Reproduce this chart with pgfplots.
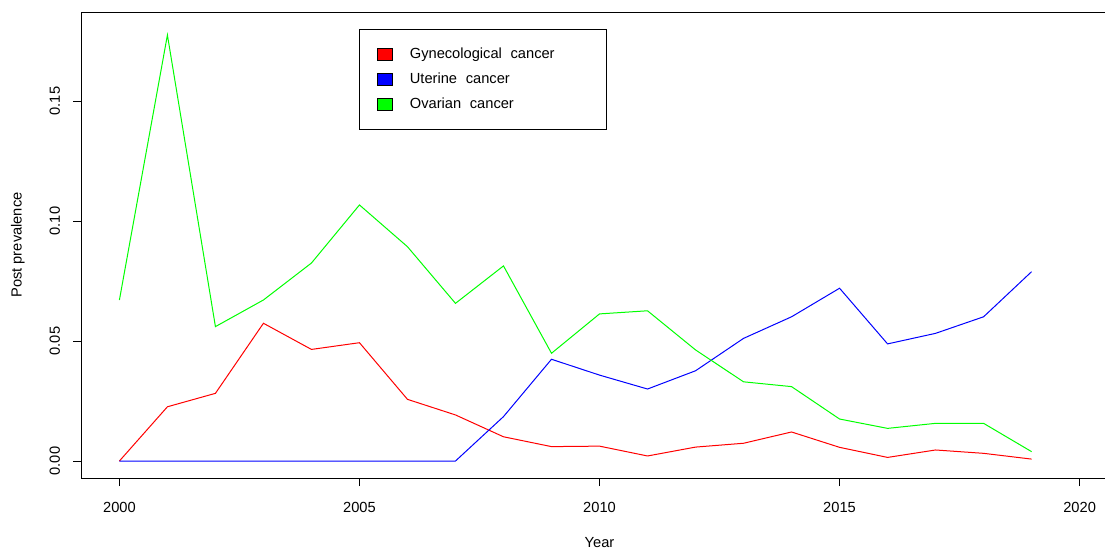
\documentclass[border=0pt]{standalone}
\usepackage{pgfplots}
\pgfplotsset{compat=1.18}
\usepackage{fontspec}
\setmainfont{Liberation Sans}
\newcommand{\fs}{\fontsize{11pt}{13pt}\selectfont}
\newcommand{\wg}{\hspace{6.5pt}}
\begin{document}
\begin{tikzpicture}
\path[use as bounding box] (0pt,0pt) rectangle (828.75pt,413.25pt);
\clip (0pt,0pt) rectangle (828.75pt,413.25pt);
\begin{axis}[
  at={(60.75pt,54.75pt)}, anchor=south west,
  scale only axis, width=777.75pt, height=349.5pt,
  xmin=1999.2, xmax=2020.8, ymin=-0.00708, ymax=0.1871,
  xtick={2000,2005,2010,2015,2020}, ytick={0,0.05,0.10,0.15},
  axis line style={black, line width=0.75pt},
  tick style={black, line width=0.75pt},
  tick align=outside, major tick length=6pt,
  xtick pos=lower, ytick pos=left,
  /pgf/number format/assume math mode=true,
  x tick label style={/pgf/number format/1000 sep={}, font=\fs, anchor=north, inner sep=0pt},
  xticklabel shift=12pt,
  y tick label style={/pgf/number format/.cd, fixed, fixed zerofill, precision=2, /tikz/.cd, font=\fs, rotate=90, anchor=south, inner sep=0pt},
  yticklabel shift=9.5pt,
  xlabel={Year}, ylabel={Post prevalence},
  xlabel style={font=\fs, at={(axis description cs:0.5,-0.1395)}, anchor=center},
  ylabel style={font=\fs, at={(axis description cs:-0.0608,0.5)}, anchor=center},
  legend cell align=left,
  legend style={at={(axis description cs:0.2681,0.9635)}, anchor=north west, draw=black, line width=0.75pt, fill=white,
    inner xsep=13pt, inner ysep=9.4pt, row sep=0pt, font=\fs,
    nodes={text height=8pt, text depth=2.75pt, inner xsep=3.5pt, inner ysep=4pt},
    /tikz/every odd column/.append style={column sep=9.5pt}},
]
\addplot[red, line width=0.75pt, legend image code/.code={\draw[draw=black, fill=red, line width=0.5pt] (0pt,-4.5pt) rectangle (11.25pt,4.5pt);}] coordinates {
(2000,0) (2001,0.0226) (2002,0.0282) (2003,0.0574) (2004,0.0465) (2005,0.0493) (2006,0.0257) (2007,0.0192) (2008,0.0101) (2009,0.0060) (2010,0.0062) (2011,0.0021) (2012,0.0058) (2013,0.0074) (2014,0.0121) (2015,0.0057) (2016,0.0015) (2017,0.0046) (2018,0.0032) (2019,0.0008)};
\addlegendentry{Gynecological\wg cancer\hspace{22pt}\null}
\addplot[blue, line width=0.75pt, legend image code/.code={\draw[draw=black, fill=blue, line width=0.5pt] (0pt,-4.5pt) rectangle (11.25pt,4.5pt);}] coordinates {
(2000,0) (2001,0) (2002,0) (2003,0) (2004,0) (2005,0) (2006,0) (2007,0) (2008,0.0185) (2009,0.0424) (2010,0.0358) (2011,0.0300) (2012,0.0376) (2013,0.0511) (2014,0.0601) (2015,0.0720) (2016,0.0488) (2017,0.0532) (2018,0.0601) (2019,0.0789)};
\addlegendentry{Uterine\wg cancer}
\addplot[green, line width=0.75pt, legend image code/.code={\draw[draw=black, fill=green, line width=0.5pt] (0pt,-4.5pt) rectangle (11.25pt,4.5pt);}] coordinates {
(2000,0.0671) (2001,0.1775) (2002,0.0560) (2003,0.0671) (2004,0.0825) (2005,0.1067) (2006,0.0893) (2007,0.0657) (2008,0.0813) (2009,0.0449) (2010,0.0613) (2011,0.0626) (2012,0.0463) (2013,0.0330) (2014,0.0310) (2015,0.0175) (2016,0.0136) (2017,0.0157) (2018,0.0157) (2019,0.0039)};
\addlegendentry{Ovarian\wg cancer}
\end{axis}
\end{tikzpicture}
\end{document}
